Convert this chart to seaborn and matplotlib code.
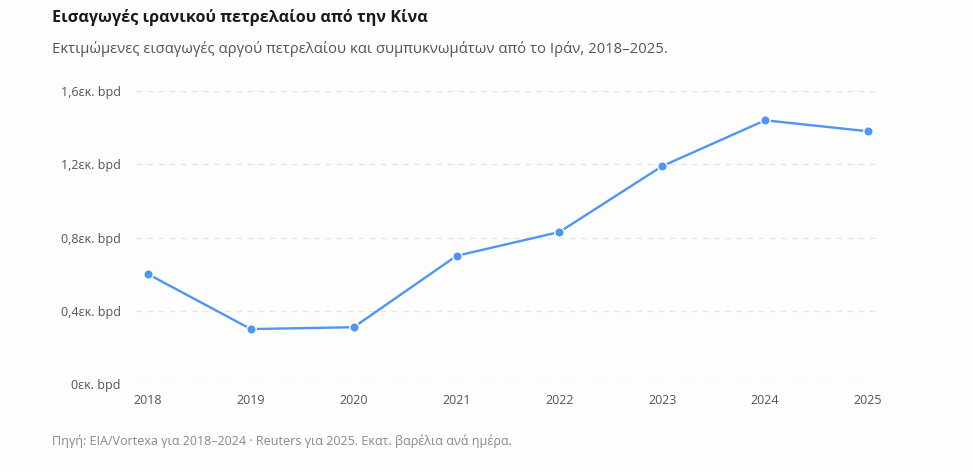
import matplotlib
matplotlib.use("Agg")
import matplotlib.pyplot as plt
import seaborn as sns
import pandas as pd

years = [2018, 2019, 2020, 2021, 2022, 2023, 2024, 2025]
imports_mbpd = [0.60, 0.30, 0.31, 0.70, 0.83, 1.19, 1.44, 1.38]
y_ticks = [0, 0.4, 0.8, 1.2, 1.6]
y_tick_labels = ["0εκ. bpd", "0,4εκ. bpd", "0,8εκ. bpd", "1,2εκ. bpd", "1,6εκ. bpd"]

title = "Εισαγωγές ιρανικού πετρελαίου από την Κίνα"
subtitle = "Εκτιμώμενες εισαγωγές αργού πετρελαίου και συμπυκνωμάτων από το Ιράν, 2018–2025."
source = "Πηγή: EIA/Vortexa για 2018–2024 · Reuters για 2025. Εκατ. βαρέλια ανά ημέρα."

sns.set_theme(style="white")
plt.rcParams['font.family'] = ['Open Sans', 'DejaVu Sans']

W, H = 973, 472
bg = "#fdfdfd"
fig = plt.figure(figsize=(W / 100, H / 100), dpi=100, facecolor=bg)

left, right, top, bottom = 136, 878, 91, 384
ax = fig.add_axes([left / W, 1 - bottom / H, (right - left) / W, (bottom - top) / H])
ax.set_facecolor(bg)

df = pd.DataFrame({"year": years, "value": imports_mbpd})
sns.lineplot(data=df, x="year", y="value", ax=ax, color="#4f96f4", linewidth=1.7,
             marker="o", markersize=6.8, markeredgecolor="white", markeredgewidth=1.0,
             clip_on=False, zorder=3)

px_per_year = (868 - 148) / 7
ax.set_xlim(2018 - 12 / px_per_year, 2025 + 10 / px_per_year)
ax.set_ylim(0, 1.6)
ax.set_xticks(years)
ax.set_xticklabels([str(y) for y in years])
ax.set_yticks(y_ticks)
ax.set_yticklabels(y_tick_labels)
ax.tick_params(axis="both", length=0, labelsize=9, labelcolor="#555555")
ax.tick_params(axis="y", pad=11)
ax.tick_params(axis="x", pad=7)
ax.set_xlabel("")
ax.set_ylabel("")
for s in ax.spines.values():
    s.set_visible(False)
ax.grid(axis="y", color="#e4e4e4", linestyle=(0, (4, 4)), linewidth=1)
ax.grid(axis="x", visible=False)
ax.set_axisbelow(True)

fig.text(52 / W, 1 - 17 / H, title, fontsize=11.6, fontweight="bold", color="#1a1a1a",
         ha="left", va="center")
fig.text(52 / W, 1 - 49 / H, subtitle, fontsize=10.7, color="#555555", ha="left", va="center")
fig.text(52 / W, 1 - 441 / H, source, fontsize=9.0, color="#888888", ha="left", va="center")

fig.savefig("out.png", dpi=100, facecolor=bg)
